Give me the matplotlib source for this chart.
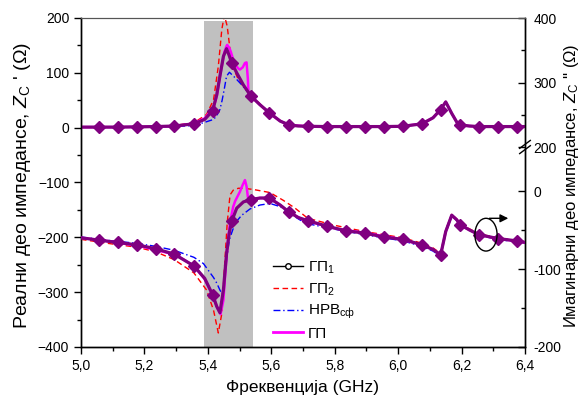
import numpy as np
import matplotlib
matplotlib.use('Agg')
import matplotlib.pyplot as plt
from matplotlib.lines import Line2D
from matplotlib.patches import Ellipse
from matplotlib.ticker import MultipleLocator, FixedLocator

plt.rcParams['font.family'] = ['Liberation Sans', 'DejaVu Sans']
plt.rcParams['mathtext.fontset'] = 'custom'
plt.rcParams['mathtext.rm'] = 'Liberation Sans'
plt.rcParams['mathtext.it'] = 'Liberation Sans:italic'

# GP1 (purple, diamonds) - real part (left axis) and imaginary part (right axis)
f_gp1 = [5.000, 5.057, 5.116, 5.176, 5.236, 5.294, 5.356, 5.390, 5.415, 5.428,
         5.438, 5.449, 5.459, 5.467, 5.475, 5.491, 5.512, 5.535, 5.564, 5.594,
         5.628, 5.656, 5.685, 5.715, 5.775, 5.835, 5.895, 5.955, 6.015, 6.075,
         6.110, 6.134, 6.150, 6.169, 6.185, 6.195, 6.225, 6.255, 6.315, 6.375, 6.400]
re_gp1 = [1, 1, 1, 1.5, 2, 3, 7, 15, 31, 60,
          94, 130, 144, 132, 118, 100, 78, 58, 42, 27,
          12, 5, 3, 2.5, 2, 2, 2, 2, 2.5, 7,
          18, 33, 47, 26, 10, 5, 3, 2, 2, 2, 2]
im_gp1 = [-60, -63, -66, -69, -74, -81, -96, -112, -133, -148,
          -156, -127, -80, -55, -39, -22, -14, -11, -9, -9,
          -18, -27, -34, -38, -45, -51, -54, -59, -62, -69,
          -75, -82, -52, -31, -37, -43, -50, -56, -61, -64, -66]
f_markers = [5.057, 5.116, 5.176, 5.236, 5.294, 5.356, 5.415, 5.475, 5.535, 5.594,
             5.656, 5.715, 5.775, 5.835, 5.895, 5.955, 6.015, 6.075, 6.134, 6.195,
             6.255, 6.315, 6.375]

# GP (magenta)
f_gp = [5.000, 5.100, 5.200, 5.300, 5.356, 5.390, 5.417, 5.428, 5.440, 5.444,
        5.449, 5.452, 5.459, 5.461, 5.468, 5.472, 5.480, 5.486, 5.496, 5.501,
        5.510, 5.517, 5.522, 5.526, 5.528, 5.535, 5.564, 5.594, 5.628, 5.656,
        5.700, 5.800, 5.900, 6.000, 6.075, 6.110, 6.134, 6.150, 6.169, 6.185,
        6.195, 6.225, 6.255, 6.300, 6.350, 6.400]
re_gp = [1, 1, 1.5, 3, 8, 17, 35, 57, 100, 112,
         128, 138, 149, 151, 145, 139, 124, 115, 108, 106,
         110, 118, 119, 90, 66, 58, 42, 27, 12, 5,
         3, 2, 2, 2, 7, 18, 33, 47, 26, 10,
         5, 3, 2, 2, 2, 2]
im_gp = [-60, -65, -72, -82, -96, -113, -135, -148, -158, -150,
         -140, -122, -83, -75, -46, -36, -20, -13, -5, -1,
         8, 14, 6, -7, -10, -11, -9, -9, -18, -27,
         -37, -48, -54, -61, -69, -75, -82, -52, -31, -37,
         -43, -50, -56, -60, -63, -66]

# GP2 (red dashed)
f_gp2 = [5.000, 5.100, 5.176, 5.236, 5.294, 5.356, 5.396, 5.418, 5.433, 5.444,
         5.452, 5.461, 5.470, 5.480, 5.496, 5.512, 5.543, 5.596, 5.638, 5.675,
         5.715, 5.800, 5.895, 6.015, 6.075, 6.110, 6.134, 6.150, 6.169, 6.185,
         6.195, 6.255, 6.315, 6.400]
re_gp2 = [1, 1, 1.5, 2, 4, 9, 24, 51, 112, 179,
          205, 185, 142, 109, 88, 75, 55, 26, 9, 4,
          3, 2, 2, 2.5, 7, 18, 33, 47, 26, 10,
          5, 2, 2, 2]
im_gp2 = [-62, -68, -72, -78, -88, -105, -127, -153, -182, -157,
          -101, -41, -5, 1, 3.5, 3.5, 2, -2, -12, -22,
          -35, -44, -52, -60, -67, -73, -80, -50, -30, -36,
          -42, -55, -60, -65]

# HPB_sf (blue dash-dot)
f_hpb = [5.000, 5.100, 5.176, 5.236, 5.294, 5.356, 5.386, 5.418, 5.428, 5.438,
         5.445, 5.451, 5.459, 5.468, 5.486, 5.507, 5.533, 5.564, 5.596, 5.628,
         5.659, 5.690, 5.715, 5.800, 5.895, 6.015, 6.075, 6.110, 6.134, 6.150,
         6.169, 6.185, 6.195, 6.255, 6.315, 6.400]
re_hpb = [1, 1, 1, 1.5, 2, 4, 9, 15, 22, 33,
          50, 68, 94, 101, 91, 78, 60, 42, 27, 12,
          5, 3, 2.5, 2, 2, 2.5, 7, 18, 33, 47,
          26, 10, 5, 2, 2, 2]
im_hpb = [-59, -64, -67, -71, -76, -85, -93, -111, -118, -127,
          -132, -122, -88, -62, -41, -31, -23, -18, -16, -20,
          -29, -37, -42, -49, -56, -64, -71, -77, -84, -54,
          -32, -38, -44, -57, -62, -67]

# right axis: broken scale, lower part -200..0, upper part labelled 200..400
right_lower_ticks = [-200, -100, 0]
right_upper_labels = [200, 300, 400]
right_top = 221.8
right_break = 56.4

span = (5.388, 5.543)

fig = plt.figure(figsize=(5.85, 4.03), dpi=100)
ax = fig.add_axes([81/585, 56/403, 444/585, 329/403])
ax2 = ax.twinx()

ax.axvspan(span[0], span[1], ymin=0, ymax=0.991, color='#c0c0c0', lw=0, zorder=0)

purple = '#800080'
mk = [i for i, f in enumerate(f_gp1) if f in f_markers]

ax.plot(f_gp2, re_gp2, '--', color='#ff0000', lw=1, dashes=(4, 2.5), zorder=2)
ax.plot(f_hpb, re_hpb, '-.', color='#0000ff', lw=1, dashes=(5, 2, 1, 2), zorder=2)
ax.plot(f_gp, re_gp, '-', color='#ff00ff', lw=1.8, zorder=3)
ax.plot(f_gp1, re_gp1, '-', color=purple, lw=2.3, marker='D', ms=6.5,
        markevery=mk, mfc=purple, mec=purple, zorder=4)

ax2.plot(f_gp2, im_gp2, '--', color='#ff0000', lw=1, dashes=(4, 2.5), zorder=2)
ax2.plot(f_hpb, im_hpb, '-.', color='#0000ff', lw=1, dashes=(5, 2, 1, 2), zorder=2)
ax2.plot(f_gp, im_gp, '-', color='#ff00ff', lw=1.8, zorder=3)
ax2.plot(f_gp1, im_gp1, '-', color=purple, lw=2.3, marker='D', ms=6.5,
         markevery=mk, mfc=purple, mec=purple, zorder=4)

ax.set_xlim(5.0, 6.4)
ax.set_ylim(-400, 200)
ax2.set_ylim(-200, right_top)

ax.xaxis.set_major_locator(MultipleLocator(0.2))
ax.xaxis.set_minor_locator(MultipleLocator(0.1))
ax.yaxis.set_major_locator(MultipleLocator(100))
ax.yaxis.set_minor_locator(MultipleLocator(50))
ax.xaxis.set_major_formatter(plt.FuncFormatter(lambda v, p: ('%.1f' % v).replace('.', ',')))
ax.tick_params(which='major', direction='out', length=5, width=1, labelsize=10)
ax.tick_params(which='minor', direction='out', length=3, width=1)
ax.tick_params(axis='x', which='both', top=False)

scale_up = (right_top - right_break) / (right_upper_labels[-1] - right_upper_labels[0])
upper_pos = [right_break + (l - right_upper_labels[0]) * scale_up for l in right_upper_labels]
ax2.yaxis.set_major_locator(FixedLocator(right_lower_ticks + upper_pos))
ax2.set_yticklabels([str(t) for t in right_lower_ticks + right_upper_labels])
minor_lower = [-150, -50]
minor_upper = [right_break + 50 * scale_up, right_break + 150 * scale_up]
ax2.yaxis.set_minor_locator(FixedLocator(minor_lower + minor_upper))
ax2.tick_params(which='major', direction='in', length=5, width=1, labelsize=10, pad=6)
ax2.tick_params(which='minor', direction='in', length=3, width=1)

for a in (ax, ax2):
    a.spines['top'].set_color('#555555')
    a.spines['top'].set_linewidth(0.8)
    for s in ('left', 'right', 'bottom'):
        a.spines[s].set_linewidth(1)

# break marks on right spine
yb = (right_break + 200) / (right_top + 200)
tr = ax2.transAxes
dx, dy = 0.012, 0.012
for off in (-0.008, 0.008):
    ax2.plot([1 - dx, 1 + dx], [yb + off - dy, yb + off + dy], color='k', lw=1,
             transform=tr, clip_on=False, zorder=6)

ax.set_xlabel('Фреквенција (GHz)', fontsize=12.5, labelpad=5)
ax.set_ylabel("Реални део импедансе, $Z_{\\mathrm{C}}$ ' (Ω)", fontsize=14)
ax.yaxis.set_label_coords(-0.108, 0.49)
ax2.set_ylabel("Имагинарни део импедансе, $Z_{\\mathrm{C}}$ '' (Ω)", fontsize=12,
               rotation=90)
ax2.yaxis.set_label_coords(1.083, 0.49)

# ellipse + arrow pointing to the right axis
ax2.add_patch(Ellipse((6.277, -56), 0.07, 42, fill=False, ec='k', lw=1, zorder=6))
ax2.annotate('', xy=(6.356, -35), xytext=(6.279, -35),
             arrowprops=dict(arrowstyle='-|>', color='k', lw=1, mutation_scale=12), zorder=6)

handles = [
    Line2D([], [], color='k', lw=1, marker='o', ms=4, mfc='white', mec='k'),
    Line2D([], [], color='#ff0000', lw=1, ls='--', dashes=(4, 2.5)),
    Line2D([], [], color='#0000ff', lw=1, ls='-.', dashes=(5, 2, 1, 2)),
    Line2D([], [], color='#ff00ff', lw=2),
]
labels = ['ГП$_1$', 'ГП$_2$', 'HPB$_{\\mathrm{сф}}$', 'ГП']
ax2.legend(handles, labels, loc='upper left', bbox_to_anchor=(265/585, 1 - 252/403),
           bbox_transform=fig.transFigure, frameon=False, fontsize=11,
           handlelength=2.0, handletextpad=0.3, labelspacing=0.35, borderpad=0)

fig.savefig('out.png', dpi=100)
